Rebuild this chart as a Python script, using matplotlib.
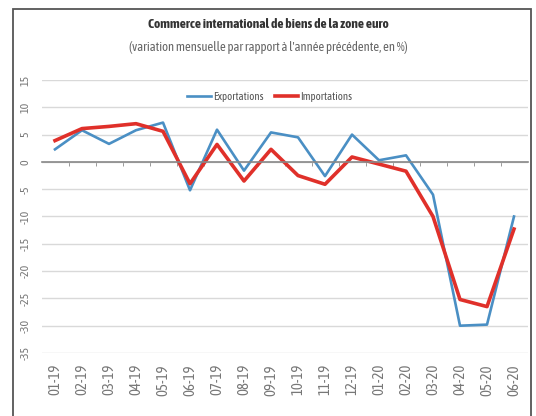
import matplotlib
matplotlib.use("Agg")
import matplotlib.pyplot as plt
from matplotlib import font_manager
from matplotlib.font_manager import FontProperties
from matplotlib.patches import Rectangle

# data
months = ["01-19", "02-19", "03-19", "04-19", "05-19", "06-19", "07-19", "08-19", "09-19",
          "10-19", "11-19", "12-19", "01-20", "02-20", "03-20", "04-20", "05-20", "06-20"]
exports = [2.3, 5.8, 3.3, 5.8, 7.2, -5.2, 5.9, -1.6, 5.4,
           4.5, -2.6, 5.0, 0.3, 1.2, -6.0, -30.0, -29.8, -10.0]
imports = [3.9, 6.1, 6.5, 7.0, 5.6, -4.0, 3.2, -3.5, 2.3,
           -2.5, -4.1, 0.9, -0.4, -1.7, -10.0, -25.2, -26.5, -12.3]
yticks = [15, 10, 5, 0, -5, -10, -15, -20, -25, -30, -35]


def font_file(stem):
    # condensed fonts stand in for the Arial Narrow of the original
    for f in font_manager.fontManager.ttflist:
        if f.fname.endswith(stem):
            return f.fname
    return None


reg = font_file("AsapCondensed-Regular.ttf")
bold = font_file("AsapCondensed-Bold.ttf")
fp_reg = FontProperties(fname=reg) if reg else FontProperties(family="Liberation Sans")
fp_bold = FontProperties(fname=bold) if bold else FontProperties(family="Liberation Sans", weight="bold")


def fp(size, base=fp_reg):
    p = base.copy()
    p.set_size(size)
    return p


fig = plt.figure(figsize=(5.36, 4.16), dpi=100)
ax = fig.add_axes([41.5 / 536, 1 - 353 / 416, 486 / 536, 273 / 416])

x = list(range(len(months)))
ax.plot(x, exports, color="#4a8fc4", lw=1.9, label="Exportations")
ax.plot(x, imports, color="#e0302a", lw=2.6, label="Importations")

ymin, ymax = -35, 15
ax.set_ylim(ymin, ymax)
ax.set_xlim(-0.5, len(months) - 0.5)
ax.set_yticks(yticks)
ax.set_yticklabels([str(v) for v in yticks], rotation=90, va="center",
                   fontproperties=fp(8.5), color="#777777")
ax.yaxis.grid(True, color="#d9d9d9", lw=1.0)
ax.set_axisbelow(True)
ax.tick_params(axis="y", length=0, pad=8)

for s in ["top", "left", "right"]:
    ax.spines[s].set_visible(False)
# zero line with small category ticks
ax.spines["bottom"].set_position(("data", 0))
ax.spines["bottom"].set_color("#888888")
ax.spines["bottom"].set_linewidth(1.2)
ax.set_xticks(x)
ax.set_xticklabels([])
ax.tick_params(axis="x", which="major", length=0)
ax.set_xticks([i + 0.5 for i in x[:-1]], minor=True)
ax.tick_params(axis="x", which="minor", length=3, color="#888888", direction="out")

lab = ax.secondary_xaxis("bottom")
lab.set_xticks(x)
lab.set_xticklabels(months, rotation=90, fontproperties=fp(10.5), color="#777777")
lab.tick_params(axis="x", length=0, pad=8)
lab.spines["bottom"].set_visible(False)

ax.legend(loc="center", bbox_to_anchor=(0.47, 0.94), ncol=2, frameon=False,
          prop=fp(7.8), handlelength=2.2, columnspacing=1.0, handletextpad=0.2,
          labelcolor="#555555")

fig.text(0.5, 1 - 25 / 416, "Commerce international de biens de la zone euro",
         ha="center", va="center", fontproperties=fp(9.7, fp_bold), color="#333333")
fig.text(0.5, 1 - 47 / 416, "(variation mensuelle par rapport à l'année précédente, en %)",
         ha="center", va="center", fontproperties=fp(9.2), color="#666666")

fig.patches.append(Rectangle((13 / 536, -0.05), 518 / 536, 1.05 - 9 / 416,
                             transform=fig.transFigure, fill=False,
                             edgecolor="#555555", lw=1.3))

fig.savefig("out.png", dpi=100)
